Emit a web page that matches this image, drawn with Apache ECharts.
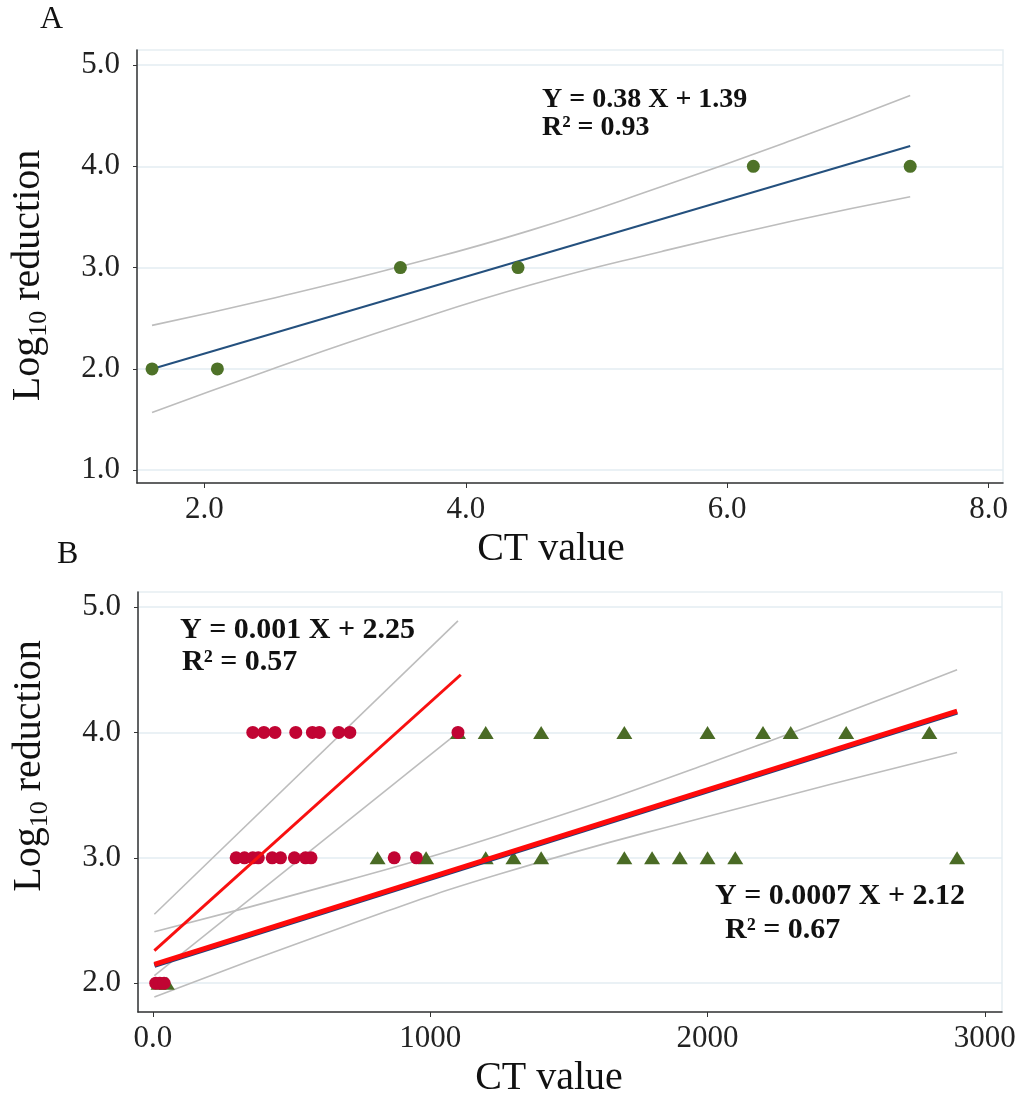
<!DOCTYPE html>
<html>
<head>
<meta charset="utf-8">
<script src="https://cdn.jsdelivr.net/npm/echarts@6/dist/echarts.min.js"></script>
<style>
  html, body { margin: 0; background: #fff; }
  #chart { width: 1021px; height: 1101px; }
</style>
</head>
<body>
<div id="chart"></div>
<script>
// Panel A
const ctA = [1.6, 2.1, 3.5, 4.4, 6.2, 7.4];
const logA = [2, 2, 3, 3, 4, 4];
const fitAX = [1.6, 7.4];
const fitAY = [2.0, 4.2];
const bandAX = [1.6, 2.5, 3.5, 4.5, 5.5, 6.5, 7.4];
const bandAUpper = [2.43, 2.69, 3.01, 3.37, 3.80, 4.26, 4.70];
const bandALower = [1.57, 1.99, 2.43, 2.83, 3.16, 3.46, 3.70];
const ticksAX = [2, 4, 6, 8];
const ticksAY = [1, 2, 3, 4, 5];

// Panel B
const circleCtB = [10, 25, 40, 300, 330, 360, 380, 430, 460, 510, 550, 570, 870, 950,
  360, 400, 440, 515, 575, 600, 670, 710, 1100];
const circleLogB = [2, 2, 2, 3, 3, 3, 3, 3, 3, 3, 3, 3, 3, 3,
  4, 4, 4, 4, 4, 4, 4, 4, 4];
const triangleCtB = [20, 50, 810, 985, 1200, 1300, 1400, 1700, 1800, 1900, 2000, 2100, 2900,
  1100, 1200, 1400, 1700, 2000, 2200, 2300, 2500, 2800];
const triangleLogB = [2, 2, 3, 3, 3, 3, 3, 3, 3, 3, 3, 3, 3,
  4, 4, 4, 4, 4, 4, 4, 4, 4];
const fit1X = [5, 1110];
const fit1Y = [2.26, 4.46];
const band1X = [5, 1100];
const band1Upper = [2.55, 4.89];
const band1LowerX = [5, 1090];
const band1Lower = [2.06, 3.98];
const fit2X = [5, 2900];
const fit2Y = [2.15, 4.17];
const band2X = [5, 700, 1250, 2000, 2900];
const band2Upper = [2.41, 2.82, 3.18, 3.75, 4.50];
const band2Lower = [1.89, 2.46, 2.87, 3.33, 3.84];
const ticksBX = [0, 1000, 2000, 3000];
const ticksBY = [2, 3, 4, 5];

const FONT = '"Liberation Serif", "Times New Roman", serif';
const pairs = (xs, ys) => xs.map((x, i) => [x, ys[i]]);

const yName = '{a|Log}{b|10}{a| reduction}';
const yNameRich = {
  a: { fontFamily: FONT, fontSize: 40, color: '#111', lineHeight: 48 },
  b: { fontFamily: FONT, fontSize: 26, color: '#111', lineHeight: 26, verticalAlign: 'bottom' }
};

function xAxisOf(gridIndex, min, max, ticks, fmt, pad) {
  return {
    type: 'value', gridIndex, min, max,
    name: 'CT value', nameLocation: 'middle', nameGap: 46,
    nameTextStyle: { fontFamily: FONT, fontSize: 40, color: '#111', padding: pad },
    axisLine: { show: true, onZero: false, lineStyle: { color: '#333', width: 1.5 } },
    axisTick: { show: true, length: 5, customValues: ticks, lineStyle: { color: '#333' } },
    axisLabel: { customValues: ticks, margin: 11, fontFamily: FONT, fontSize: 31, color: '#222', formatter: fmt },
    splitLine: { show: false }
  };
}

function yAxisOf(gridIndex, min, max, ticks, pad) {
  return {
    type: 'value', gridIndex, min, max,
    name: yName, nameLocation: 'middle', nameGap: 85,
    nameTextStyle: { rich: yNameRich, padding: pad },
    axisLine: { show: true, onZero: false, lineStyle: { color: '#333', width: 1.5 } },
    axisTick: { show: true, length: 4, customValues: ticks, lineStyle: { color: '#333' } },
    axisLabel: { customValues: ticks, margin: 17, fontFamily: FONT, fontSize: 31, color: '#222',
      formatter: (v) => v.toFixed(1) },
    splitLine: { show: true, lineStyle: { color: '#e3edf2', width: 1.5 } }
  };
}

const grayLine = { color: '#bdbdbd', width: 1.6 };

function line(xAxisIndex, data, style, smooth, z) {
  return {
    type: 'line', xAxisIndex, yAxisIndex: xAxisIndex, data,
    showSymbol: false, symbol: 'none', smooth: !!smooth,
    lineStyle: style, silent: true, z: z || 2, animation: false
  };
}

const chart = echarts.init(document.getElementById('chart'), null, { renderer: 'canvas' });

chart.setOption({
  animation: false,
  backgroundColor: '#fff',
  grid: [
    { left: 135, top: 50, width: 868, height: 433, show: true, borderColor: '#e6eef2', borderWidth: 1.5 },
    { left: 138, top: 592, width: 864, height: 420, show: true, borderColor: '#e6eef2', borderWidth: 1.5 }
  ],
  xAxis: [
    xAxisOf(0, 1.485, 8.11, ticksAX, (v) => v.toFixed(1), [0, 38, 0, 0]),
    xAxisOf(1, -54, 3062, ticksBX, (v) => (v === 0 ? '0.0' : String(v)), [0, 42, 0, 0])
  ],
  yAxis: [
    yAxisOf(0, 0.874, 5.148, ticksAY, [0, 18, 0, 0]),
    yAxisOf(1, 1.77, 5.12, ticksBY, [0, 0, 0, 72])
  ],
  graphic: [
    { type: 'text', left: 40, top: 4, style: { text: 'A', font: '32px ' + FONT, fill: '#111' } },
    { type: 'text', left: 57, top: 539, style: { text: 'B', font: '32px ' + FONT, fill: '#111' } },
    { type: 'text', x: 542, y: 100, style: { text: 'Y = 0.38 X + 1.39', font: 'bold 28px ' + FONT, fill: '#111', verticalAlign: 'middle' } },
    { type: 'text', x: 542, y: 128, style: { text: 'R\u00b2 = 0.93', font: 'bold 28px ' + FONT, fill: '#111', verticalAlign: 'middle' } },
    { type: 'text', x: 180, y: 630, style: { text: 'Y = 0.001 X + 2.25', font: 'bold 30px ' + FONT, fill: '#111', verticalAlign: 'middle' } },
    { type: 'text', x: 182, y: 662, style: { text: 'R\u00b2 = 0.57', font: 'bold 30px ' + FONT, fill: '#111', verticalAlign: 'middle' } },
    { type: 'text', x: 715, y: 896, style: { text: 'Y = 0.0007 X + 2.12', font: 'bold 30px ' + FONT, fill: '#111', verticalAlign: 'middle' } },
    { type: 'text', x: 725, y: 930, style: { text: 'R\u00b2 = 0.67', font: 'bold 30px ' + FONT, fill: '#111', verticalAlign: 'middle' } }
  ],
  series: [
    // A
    line(0, pairs(bandAX, bandAUpper), grayLine, true),
    line(0, pairs(bandAX, bandALower), grayLine, true),
    line(0, pairs(fitAX, fitAY), { color: '#24507e', width: 2 }, false, 3),
    {
      type: 'scatter', xAxisIndex: 0, yAxisIndex: 0, data: pairs(ctA, logA),
      symbol: 'circle', symbolSize: 13, itemStyle: { color: '#4e7228', opacity: 1 }, z: 5
    },
    // B
    line(1, pairs(band1X, band1Upper), grayLine),
    line(1, pairs(band1LowerX, band1Lower), grayLine),
    line(1, pairs(band2X, band2Upper), grayLine, true),
    line(1, pairs(band2X, band2Lower), grayLine, true),
    {
      type: 'scatter', xAxisIndex: 1, yAxisIndex: 1, data: pairs(triangleCtB, triangleLogB),
      symbol: 'triangle', symbolSize: [16, 13], itemStyle: { color: '#4a6b25', opacity: 1 }, z: 4
    },
    {
      type: 'scatter', xAxisIndex: 1, yAxisIndex: 1, data: pairs(circleCtB, circleLogB),
      symbol: 'circle', symbolSize: 13, itemStyle: { color: '#c10433', opacity: 1 }, z: 5
    },
    line(1, pairs(fit1X, fit1Y), { color: '#f81010', width: 3 }, false, 6),
    line(1, pairs(fit2X, fit2Y), { color: '#ff0a0a', width: 5, shadowColor: '#23407a', shadowOffsetY: 1, shadowBlur: 0 }, false, 6)
  ]
});
</script>
</body>
</html>
